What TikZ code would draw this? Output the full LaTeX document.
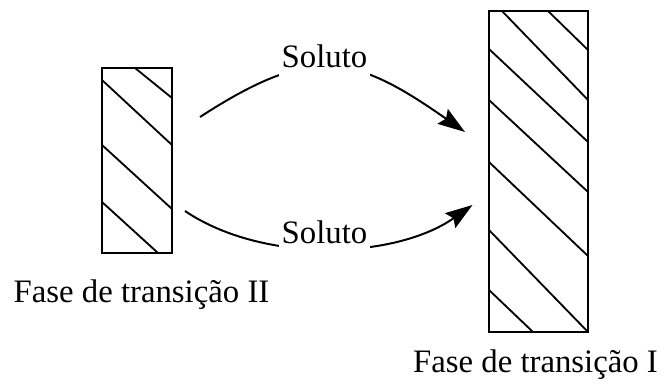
\documentclass[tikz,border=0pt]{standalone}
\usepackage{fontspec}
\setmainfont{Liberation Serif}
\usepackage{tikz}
\usetikzlibrary{arrows.meta}

\tikzset{
    phase/.style={line width=1.6pt},
    hatch/.style={line width=1.3pt},
    flow/.style={line width=1.4pt, -{Stealth[length=0.68cm, width=0.45cm, inset=0.1cm]}},
    tag/.style={fill=white, inner sep=2pt, text depth=0.35em, anchor=base}
}

\begin{document}
\begin{tikzpicture}[x=0.025cm, y=0.025cm, font=\fontsize{23.3}{28}\selectfont]
\useasboundingbox (0,0) rectangle (664,383);

% phase II (small block)
\draw[phase] (102,130) rectangle (172,315);
\draw[hatch] (135,315) -- (172,285);
\draw[hatch] (102,303) -- (172,238);
\draw[hatch] (102,238) -- (172,174);
\draw[hatch] (102,181) -- (158,130);

% phase I (large block)
\draw[phase] (489,51) rectangle (588,372);
\draw[hatch] (548,372) -- (588,333);
\draw[hatch] (502,372) -- (588,283);
\draw[hatch] (489,334) -- (588,241);
\draw[hatch] (489,283) -- (588,191);
\draw[hatch] (489,221) -- (588,127);
\draw[hatch] (489,153) -- (588,51);
\draw[hatch] (489,93) -- (533,51);

\node[anchor=base] (faseII) at (141.5,81) {Fase de transição II};
\node[anchor=base] (faseI) at (535.5,11) {Fase de transição I};

% solute transfer
\coordinate (up1) at (200,266);
\coordinate (up2) at (465,251);
\coordinate (lo1) at (185,172);
\coordinate (lo2) at (472.5,178);

\draw[flow] (up1) to [out=33, in=145, looseness=1.3] (up2);
\draw[flow] (lo1) to [out=-34, in=-145, looseness=0.84] (lo2);

\node[tag] (solup) at (324.5,315) {Soluto};
\node[tag] (sollo) at (324.5,140) {Soluto};
\end{tikzpicture}
\end{document}
